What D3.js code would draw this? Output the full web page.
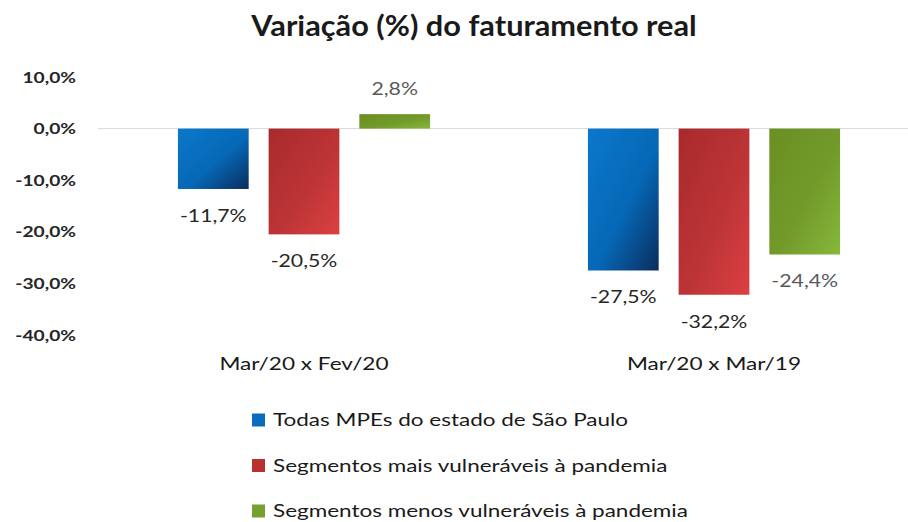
<!DOCTYPE html>
<html>
<head>
<meta charset="utf-8">
<script src="https://cdn.jsdelivr.net/npm/d3@7"></script>
<style>
  body { margin: 0; background: #fff; }
  svg text { font-family: Lato, "Open Sans", sans-serif; }
</style>
</head>
<body>
<div id="chart"></div>
<script>
// dados
const categorias = ["Mar/20 x Fev/20", "Mar/20 x Mar/19"];
const series = ["Todas MPEs do estado de São Paulo", "Segmentos mais vulneráveis à pandemia", "Segmentos menos vulneráveis à pandemia"];
const valoresTodas = [-11.7, -27.5];
const valoresMais = [-20.5, -32.2];
const valoresMenos = [2.8, -24.4];
const ticksY = [10, 0, -10, -20, -30, -40];

const width = 908, height = 522;

const svg = d3.select("#chart")
    .append("svg")
    .attr("width", width)
    .attr("height", height);

// o texto do original é mais largo: estica na horizontal
function pos(x, y, k) {
    return `translate(${x},${y}) scale(${k},1)`;
}

let defs = svg.append("defs");
let grads = [
    ["g0", ["#0b78cc", "#0668b6", "#0a2d5e"]],
    ["g1", ["#a92a2c", "#bc3436", "#dc4042"]],
    ["g2", ["#6a8f22", "#729a2b", "#86b83a"]]
];
grads.forEach(([id, cores]) => {
    let g = defs.append("linearGradient").attr("id", id)
        .attr("x1", 0).attr("y1", 0).attr("x2", 1).attr("y2", 1);
    g.append("stop").attr("offset", "0%").attr("stop-color", cores[0]);
    g.append("stop").attr("offset", "55%").attr("stop-color", cores[1]);
    g.append("stop").attr("offset", "100%").attr("stop-color", cores[2]);
});
const legendColors = ["#0a6cbf", "#b8312f", "#76a030"];

let data = categorias.map((c, i) => ({
    cat: c,
    vals: [valoresTodas[i], valoresMais[i], valoresMenos[i]]
}));

let x0 = d3.scaleBand()
    .domain(categorias)
    .range([99, 919])
    .paddingInner(0.385)
    .paddingOuter(0.1925);

let x1 = d3.scaleBand()
    .domain(d3.range(series.length))
    .range([0, x0.bandwidth()])
    .paddingInner(0.22);

let y = d3.scaleLinear()
    .domain([-40, 10])
    .range([335, 77]);

// título
svg.append("text")
    .attr("transform", pos(474, 36, 1.06))
    .attr("text-anchor", "middle")
    .style("font-size", "29px")
    .style("font-weight", "bold")
    .style("fill", "#1a1a1a")
    .text("Variação (%) do faturamento real");

// eixo y (apenas rótulos)
svg.append("g")
    .selectAll("text")
    .data(ticksY)
    .enter()
    .append("text")
    .attr("transform", d => pos(76, y(d), 1.2))
    .attr("dy", "0.35em")
    .attr("text-anchor", "end")
    .style("font-size", "16px")
    .style("font-weight", "bold")
    .style("fill", "#262626")
    .text(d => d.toFixed(1).replace(".", ",") + "%");

// linha do zero
svg.append("line")
    .attr("x1", 98)
    .attr("x2", width)
    .attr("y1", y(0))
    .attr("y2", y(0))
    .attr("stroke", "#d9d9d9")
    .attr("stroke-width", 1);

let grupos = svg.selectAll(".grupo")
    .data(data)
    .enter()
    .append("g")
    .attr("class", "grupo")
    .attr("transform", d => `translate(${x0(d.cat)},0)`);

grupos.selectAll("rect")
    .data(d => d.vals.map((v, i) => ({ v, i })))
    .enter()
    .append("rect")
    .attr("x", d => x1(d.i))
    .attr("width", x1.bandwidth())
    .attr("y", d => y(Math.max(0, d.v)))
    .attr("height", d => Math.abs(y(d.v) - y(0)))
    .attr("fill", d => `url(#g${d.i})`);

grupos.selectAll(".rotulo")
    .data(d => d.vals.map((v, i) => ({ v, i })))
    .enter()
    .append("text")
    .attr("class", "rotulo")
    .attr("transform", d => pos(x1(d.i) + x1.bandwidth() / 2,
        d.v >= 0 ? y(d.v) - 25 : y(d.v) + 27, 1.25))
    .attr("dy", "0.35em")
    .attr("text-anchor", "middle")
    .style("font-size", "17px")
    .style("fill", d => d.i === 2 ? "#595959" : "#262626")
    .text(d => d.v.toFixed(1).replace(".", ",") + "%");

// categorias
svg.append("g")
    .selectAll("text")
    .data(categorias)
    .enter()
    .append("text")
    .attr("transform", d => pos(x0(d) + x0.bandwidth() / 2, 364, 1.33))
    .attr("dy", "0.35em")
    .attr("text-anchor", "middle")
    .style("font-size", "17px")
    .style("fill", "#1a1a1a")
    .text(d => d);

// legenda
let legend = svg.append("g")
    .attr("transform", "translate(252, 420)");

legend.selectAll(".item")
    .data(series)
    .enter()
    .append("g")
    .attr("class", "item")
    .attr("transform", (d, i) => `translate(0, ${i * 45.5})`)
    .each(function(d, i) {
        let g = d3.select(this);
        g.append("rect")
            .attr("x", 0)
            .attr("y", -6.5)
            .attr("width", 13)
            .attr("height", 13)
            .attr("fill", legendColors[i]);
        g.append("text")
            .attr("transform", pos(21, 0, 1.25))
            .attr("dy", "0.35em")
            .style("font-size", "18px")
            .style("fill", "#1a1a1a")
            .text(d);
    });
</script>
</body>
</html>
